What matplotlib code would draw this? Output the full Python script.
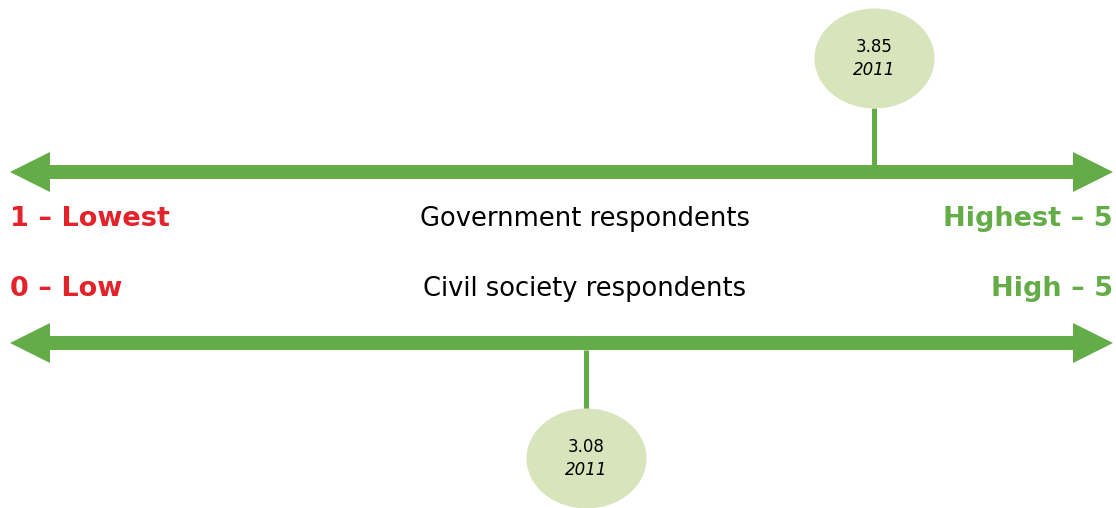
import matplotlib.pyplot as plt
import numpy as np
from matplotlib.path import Path
from matplotlib.transforms import Affine2D
from matplotlib.patches import Polygon

# data
groups = ["Government respondents", "Civil society respondents"]
scores = [3.85, 3.08]
years = ["2011", "2011"]
low_labels = ["1 \u2013 Lowest", "0 \u2013 Low"]
high_labels = ["Highest \u2013 5", "High \u2013 5"]

GREEN = "#63AC47"
RED = "#E3222A"
BUBBLE = "#D8E4BC"

W, H = 1116, 508
fig = plt.figure(figsize=(W / 100, H / 100), dpi=100)

# base axes in pixel units for the arrows and labels
base = fig.add_axes([0, 0, 1, 1])
base.set_xlim(0, W)
base.set_ylim(H, 0)
base.axis("off")

# layout per row: arrow y, label y, bubble y, stem (top, bottom), view range of score axis
arrow_y = [172, 343]
label_y = [219, 289]
bubble_y = [58, 458]
stem = [(108, 166), (350, 409)]
views = [(-0.3, 5.0), (0.98, 4.98)]


def double_arrow(ax, y, x0=10, x1=1113, shaft=14, head=40, hlen=40):
    s, h = shaft / 2, head / 2
    pts = [(x0, y), (x0 + hlen, y - h), (x0 + hlen, y - s), (x1 - hlen, y - s),
           (x1 - hlen, y - h), (x1, y), (x1 - hlen, y + h), (x1 - hlen, y + s),
           (x0 + hlen, y + s), (x0 + hlen, y + h)]
    ax.add_patch(Polygon(pts, closed=True, fc=GREEN, ec="none", zorder=2))


ellipse = Path.unit_circle().transformed(Affine2D().scale(1.0, 100 / 120))

for i in range(len(groups)):
    double_arrow(base, arrow_y[i])
    base.text(10, label_y[i], low_labels[i], color=RED, fontsize=19.5,
              fontweight="bold", ha="left", va="center")
    base.text(1113, label_y[i], high_labels[i], color=GREEN, fontsize=19.5,
              fontweight="bold", ha="right", va="center")
    base.text(585, label_y[i], groups[i], color="black", fontsize=18.5,
              ha="center", va="center")

    # score axis for this row
    ax = fig.add_axes([0, 0, 1, 1])
    ax.set_xlim(*views[i])
    ax.set_ylim(H, 0)
    ax.axis("off")
    ax.patch.set_alpha(0)
    ax.vlines(scores[i], stem[i][0], stem[i][1], color=GREEN, lw=3.6, zorder=1)
    ax.plot(scores[i], bubble_y[i], marker=ellipse, ms=86.4, mfc=BUBBLE,
            mec="none", zorder=3, clip_on=False)
    ax.text(scores[i], bubble_y[i] - 11, "%.2f" % scores[i], fontsize=12,
            ha="center", va="center", zorder=4)
    ax.text(scores[i], bubble_y[i] + 12, years[i], fontsize=12, style="italic",
            ha="center", va="center", zorder=4)

fig.savefig("out.png", dpi=100)
